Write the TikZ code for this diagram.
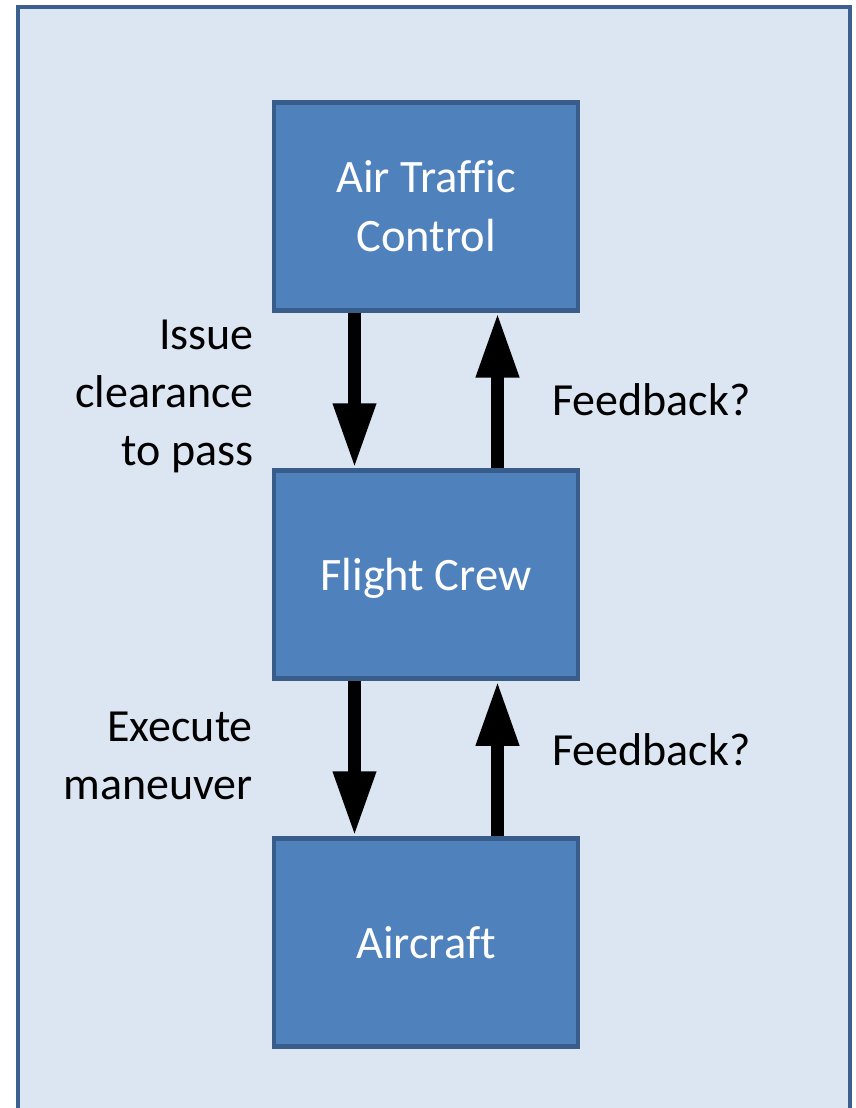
\documentclass[tikz,border=0pt]{standalone}
\usepackage{fontspec}
\setmainfont{Carlito}[Ligatures=NoCommon]
\usetikzlibrary{arrows.meta}
\definecolor{outerfill}{HTML}{DCE6F2}
\definecolor{outerline}{HTML}{3B6090}
\definecolor{boxfill}{HTML}{4F81BD}
\definecolor{boxline}{HTML}{385D8A}
\tikzset{
  unitbox/.style={draw=boxline, fill=boxfill, line width=4.5pt, minimum width=304pt,
    minimum height=208pt, inner sep=0pt, text=white, align=center,
    font=\fontsize{46.5}{59}\selectfont, text depth=0pt},
  lbl/.style={inner sep=0pt, text=black, font=\fontsize{46}{58}\selectfont},
  flow/.style={line width=13pt, -{Triangle[width=40pt,length=65pt]}}
}
\begin{document}
\begin{tikzpicture}[x=1pt,y=-1pt]
\useasboundingbox (0,0) rectangle (855,1108);
\draw[outerline, fill=outerfill, line width=4pt] (17.5,7) rectangle (849.5,1130);
\node[unitbox] (atc) at (426,206.25) {Air Traffic\\Control};
\node[unitbox] (fc) at (426,574.5) {Flight Crew};
\node[unitbox] (ac) at (426,942.5) {Aircraft};
\draw[flow] ([xshift=-71.5pt]atc.south) -- ([xshift=-71.5pt]fc.north);
\draw[flow] ([xshift=71.5pt]fc.north) -- ([xshift=71.5pt]atc.south);
\draw[flow] ([xshift=-71.5pt]fc.south) -- ([xshift=-71.5pt]ac.north);
\draw[flow] ([xshift=71.5pt]ac.north) -- ([xshift=71.5pt]fc.south);
\node[lbl, align=right, anchor=base east] (l1) at (254,465) {Issue\\clearance\\to pass};
\node[lbl, anchor=base west] (l2) at (552,415) {Feedback?};
\node[lbl, align=right, anchor=base east] (l3) at (253,799) {Execute\\maneuver};
\node[lbl, anchor=base west] (l4) at (552,765) {Feedback?};
\end{tikzpicture}
\end{document}
